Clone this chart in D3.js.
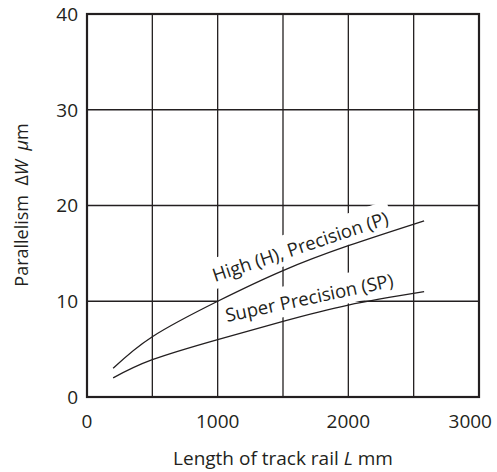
<!DOCTYPE html>
<html>
<head>
<meta charset="utf-8">
<script src="https://cdn.jsdelivr.net/npm/d3@7/dist/d3.min.js"></script>
<style>
    body { margin: 0; background: #fff; }
    text { font-family: 'Open Sans', sans-serif; fill: #231f20; }
</style>
</head>
<body>
<div id="vis"></div>
<script>
'use strict';

//chart values
var xTicks = [0, 1000, 2000, 3000];
var yTicks = [0, 10, 20, 30, 40];
var xGrid = [500, 1000, 1500, 2000, 2500];
var yGrid = [10, 20, 30];
var railLength = [200, 500, 1000, 1500, 2000, 2580];
var highPrecision = [3.0, 6.3, 10.0, 13.2, 15.8, 18.4];
var superPrecision = [2.0, 3.9, 6.0, 7.9, 9.6, 11.0];
var seriesNames = ['High (H), Precision (P)', 'Super Precision (SP)'];

//layout
var width = 497, height = 472;
var margin = { top: 14, right: 18, bottom: 75, left: 87 };
var dim = { w: width - margin.left - margin.right, h: height - margin.top - margin.bottom };
var ink = '#231f20';
var fontSize = '19px';

var x = d3.scaleLinear().domain([0, 3000]).range([0, dim.w]);
var y = d3.scaleLinear().domain([0, 40]).range([dim.h, 0]);

var svg = d3.select('#vis')
    .append('svg')
    .attr('width', width)
    .attr('height', height);

var g = svg.append('g')
    .attr('transform', 'translate(' + margin.left + ', ' + margin.top + ')');

//grid
g.selectAll('.grid-x')
    .data(xGrid)
    .enter()
    .append('line')
    .attr('x1', function (d) { return x(d); })
    .attr('x2', function (d) { return x(d); })
    .attr('y2', dim.h)
    .style('stroke', ink)
    .style('stroke-width', 1.3);
g.selectAll('.grid-y')
    .data(yGrid)
    .enter()
    .append('line')
    .attr('y1', function (d) { return y(d); })
    .attr('y2', function (d) { return y(d); })
    .attr('x2', dim.w)
    .style('stroke', ink)
    .style('stroke-width', 1.3);

//curve labels: white boxes knock out the grid, text goes on top
var labelPos = [
    { x: 980, y: 12.0, angle: -18.5 },
    { x: 1071, y: 7.83, angle: -12 }
];
function labelTransform(d, i) {
    var p = labelPos[i];
    return 'translate(' + x(p.x) + ', ' + y(p.y) + ') rotate(' + p.angle + ')';
}
var boxG = g.append('g');
var textG = g.append('g');

var labelText = textG.selectAll('text')
    .data(seriesNames)
    .enter()
    .append('text')
    .attr('transform', labelTransform)
    .style('font-size', '18.5px')
    .text(function (d) { return d; });

labelText.each(function (d, i) {
    var b = this.getBBox();
    boxG.append('rect')
        .attr('transform', labelTransform(d, i))
        .attr('x', b.x - 4)
        .attr('y', b.y - 3)
        .attr('width', b.width + 8)
        .attr('height', b.height + 5)
        .style('fill', '#fff');
});

//curves, above the boxes
var line = d3.line()
    .x(function (d) { return x(d[0]); })
    .y(function (d) { return y(d[1]); })
    .curve(d3.curveNatural);
[highPrecision, superPrecision].forEach(function (s) {
    g.append('path')
        .attr('d', line(d3.zip(railLength, s)))
        .style('fill', 'none')
        .style('stroke', ink)
        .style('stroke-width', 1.3);
});
textG.raise();

//frame
g.append('rect')
    .attr('width', dim.w)
    .attr('height', dim.h)
    .style('fill', 'none')
    .style('stroke', ink)
    .style('stroke-width', 2.2);

//tick labels, last one pulled inside the page
g.selectAll('.tick-x')
    .data(xTicks)
    .enter()
    .append('text')
    .attr('x', function (d, i) { return i === xTicks.length - 1 ? dim.w + 13 : x(d); })
    .attr('y', dim.h + 31)
    .attr('text-anchor', function (d, i) { return i === xTicks.length - 1 ? 'end' : 'middle'; })
    .style('font-size', fontSize)
    .text(function (d) { return d; });
g.selectAll('.tick-y')
    .data(yTicks)
    .enter()
    .append('text')
    .attr('x', -9)
    .attr('y', function (d) { return y(d); })
    .attr('dy', '0.36em')
    .attr('text-anchor', 'end')
    .style('font-size', fontSize)
    .text(function (d) { return d; });

//axis titles
var xTitle = svg.append('text')
    .attr('x', margin.left + dim.w / 2)
    .attr('y', 465)
    .attr('text-anchor', 'middle')
    .style('font-size', fontSize);
xTitle.append('tspan').text('Length of track rail ');
xTitle.append('tspan').style('font-style', 'italic').text('L');
xTitle.append('tspan').text(' mm');

var yTitle = svg.append('text')
    .attr('transform', 'translate(28, 205) rotate(-90)')
    .attr('text-anchor', 'middle')
    .style('font-size', '18px')
    .attr('xml:space', 'preserve');
yTitle.append('tspan').text('Parallelism  \u0394');
yTitle.append('tspan').style('font-style', 'italic').text('W');
yTitle.append('tspan').text('  ');
yTitle.append('tspan').style('font-style', 'italic').text('\u03bc');
yTitle.append('tspan').text('m');
</script>
</body>
</html>
